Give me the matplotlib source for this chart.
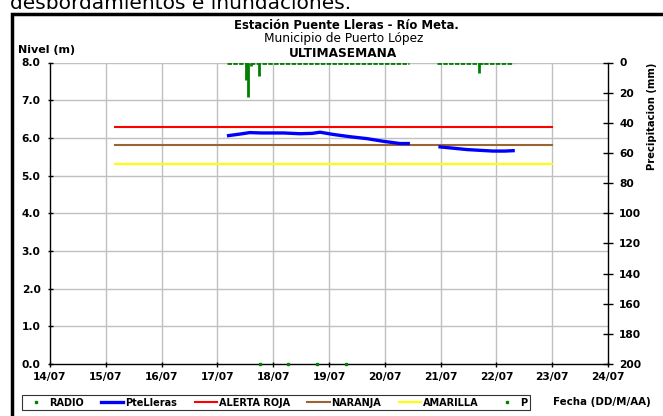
import numpy as np
import matplotlib
matplotlib.use("Agg")
import matplotlib.pyplot as plt
from matplotlib.patches import Rectangle

plt.rcParams['font.family'] = ['DejaVu Sans']
plt.rcParams['font.weight'] = 'bold'

# x axis: day of July
day_ticks = list(range(14, 25))
day_labels = ["%02d/07" % d for d in day_ticks]

# nivel PteLleras (m), two pieces with a gap
lvl_t1 = [17.20, 17.40, 17.58, 17.80, 18.18, 18.48, 18.70, 18.84, 19.08, 19.38, 19.68, 19.97, 20.27, 20.42]
lvl_v1 = [6.06, 6.10, 6.14, 6.13, 6.13, 6.11, 6.12, 6.15, 6.09, 6.03, 5.98, 5.91, 5.85, 5.85]
lvl_t2 = [20.99, 21.20, 21.47, 21.70, 21.94, 22.15, 22.30]
lvl_v2 = [5.76, 5.73, 5.69, 5.67, 5.65, 5.65, 5.66]

# umbrales
umbral_t = [15.17, 23.0]
roja = 6.3
naranja = 5.8
amarilla = 5.3

# RADIO points (at 0.0)
radio_t = [17.76, 18.27, 18.78, 19.30]
radio_v = [0.0, 0.0, 0.0, 0.0]

# precipitacion (mm): record spans and the non zero values
p_start = [17.17, 20.94]
p_end = [20.43, 22.30]
p_t = [17.51, 17.55, 17.60, 17.75, 21.68, 21.74]
p_mm = [11.7, 23.0, 2.0, 8.8, 6.9, 1.3]

W, H = 663, 416
fig = plt.figure(figsize=(W / 100, H / 100), dpi=100)
ax = fig.add_axes([50 / W, 1 - 364 / H, 558 / W, 301.5 / H])
ax2 = ax.twinx()

grid_c = '#c0c0c0'
for d in day_ticks[1:-1]:
    ax.axvline(d, color=grid_c, lw=1, zorder=0)
for y in range(1, 9):
    ax.axhline(y, color=grid_c, lw=1, zorder=0)

lr, = ax.plot(umbral_t, [roja, roja], color='#ff0000', lw=1.5, label='ALERTA ROJA')
ln, = ax.plot(umbral_t, [naranja, naranja], color='#996633', lw=1.5, label='NARANJA')
la, = ax.plot(umbral_t, [amarilla, amarilla], color='#ffff00', lw=1.5, label='AMARILLA')
l1, = ax.plot(lvl_t1, lvl_v1, color='#0000ff', lw=2.4, label='PteLleras')
ax.plot(lvl_t2, lvl_v2, color='#0000ff', lw=2.4)
r, = ax.plot(radio_t, radio_v, ls='none', marker='s', ms=2, color='#008000', label='RADIO',
             clip_on=False, zorder=5)

ax.set_xlim(14, 24)
ax.set_ylim(0, 8)
ax.set_xticks(day_ticks)
ax.set_xticklabels(day_labels)
ax.set_yticks(np.arange(0, 9, 1))
ax.set_yticklabels(["%.1f" % v for v in np.arange(0, 9, 1)])

ax2.hlines([0] * len(p_start), p_start, p_end, colors='#008000', lw=2, linestyles=(0, (1.6, 0.5)))
ax2.vlines(p_t, 0, p_mm, colors='#008000', lw=2)
pdot, = ax2.plot([], [], ls='none', marker='s', ms=2, color='#008000', label='P')
ax2.set_ylim(200, 0)
ax2.set_yticks(np.arange(0, 201, 20))

for a in (ax, ax2):
    a.spines['top'].set_visible(False)
ax.spines['right'].set_visible(False)
ax2.spines['left'].set_visible(False)
ax2.spines['bottom'].set_visible(False)
ax.tick_params(labelsize=7.7, width=1, length=3.6, direction='inout')
ax.tick_params(axis='x', pad=4)
ax.tick_params(axis='y', pad=5)
ax2.tick_params(labelsize=7.7, width=1, length=7, direction='inout', pad=4.5)
for s in ('left', 'bottom'):
    ax.spines[s].set_linewidth(1)
ax2.spines['right'].set_linewidth(1)

fig.text(652 / W, 1 - 116 / H, 'Precipitacion (mm)', fontsize=7.2, fontweight='bold',
         rotation=90, ha='center', va='center')
fig.text(46.5 / W, 1 - 53 / H, 'Nivel (m)', fontsize=8, fontweight='bold', ha='center', va='baseline')
fig.text(346 / W, 1 - 29 / H, 'Estación Puente Lleras - Río Meta.', fontsize=8.4, fontweight='bold',
         ha='center', va='baseline')
fig.text(344 / W, 1 - 42.3 / H, 'Municipio de Puerto López', fontsize=8.7, fontweight='normal',
         ha='center', va='baseline')
fig.text(343 / W, 1 - 56.7 / H, 'ULTIMASEMANA', fontsize=8.7, fontweight='bold', ha='center', va='baseline')
fig.text(602 / W, 1 - 402 / H, 'Fecha (DD/M/AA)', fontsize=7.4, fontweight='bold', ha='center', va='center')

# texto cortado arriba (asi viene en la captura)
fig.text(10 / W, 1 - 9 / H, 'desbordamientos e inundaciones.', fontsize=14.5, fontweight='normal',
         ha='left', va='baseline')

# marco negro
fig.patches.append(Rectangle((12 / W, -0.1), 1.2, 1 - 13.5 / H + 0.1, transform=fig.transFigure,
                             fill=False, ec='black', lw=2.5))

handles = [r, l1, lr, ln, la, pdot]
labels = ['RADIO', 'PteLleras', 'ALERTA ROJA', 'NARANJA', 'AMARILLA', 'P']
leg = fig.legend(handles, labels, ncol=6, loc='center', mode='expand',
                 bbox_to_anchor=(17 / W, 1 - 412 / H, 518 / W, 19 / H),
                 fontsize=7, frameon=True, fancybox=False, edgecolor='black',
                 handlelength=2.3, handletextpad=0.2, columnspacing=0.6, borderpad=0.3,
                 markerscale=1.0)
leg.get_frame().set_linewidth(0.8)

fig.savefig('out.png', dpi=100)
